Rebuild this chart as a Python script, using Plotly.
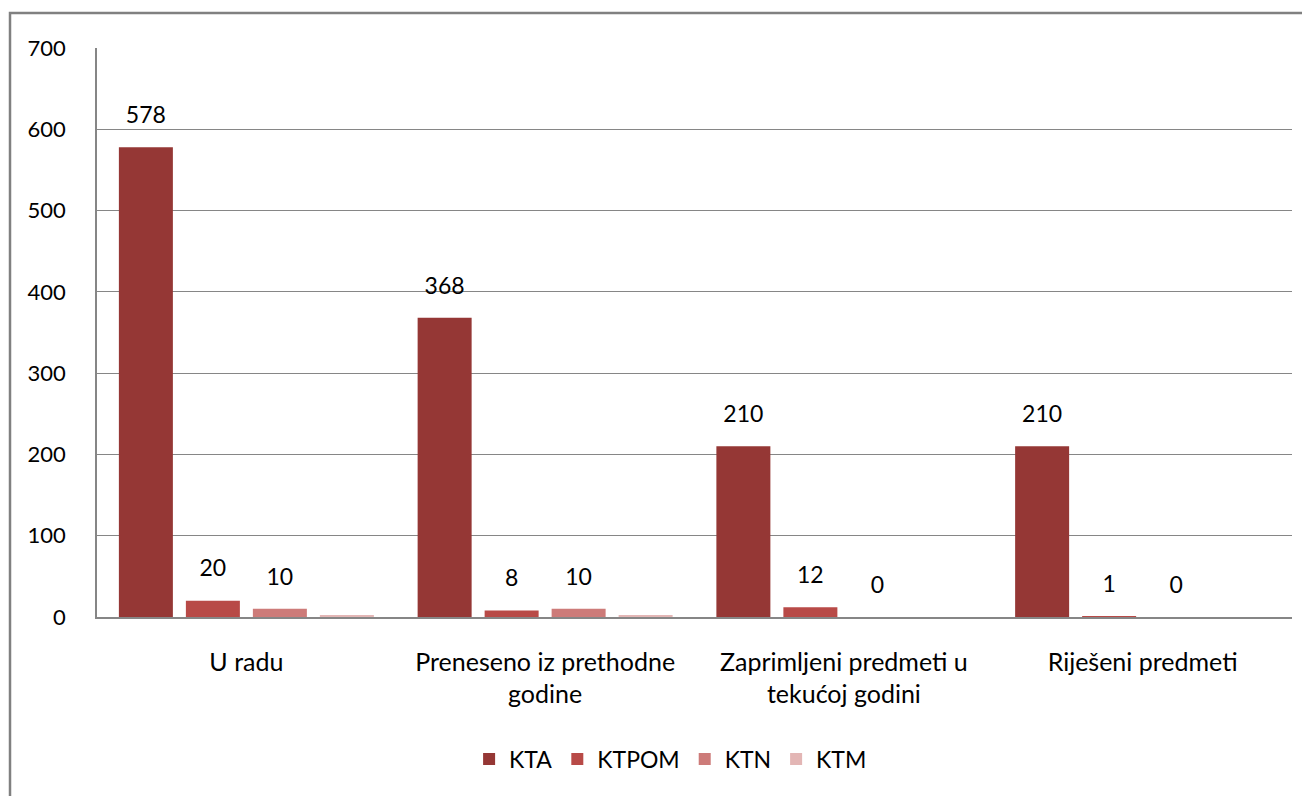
import plotly.graph_objects as go

categories = ["U radu", "Preneseno iz prethodne<br>godine", "Zaprimljeni predmeti u<br>tekućoj godini", "Riješeni predmeti"]
series_names = ["KTA", "KTPOM", "KTN", "KTM"]
kta = [578, 368, 210, 210]
ktpom = [20, 8, 12, 1]
ktn = [10, 10, 0, 0]
ktm = [2, 2, None, None]
labels_kta = ["578", "368", "210", "210"]
labels_ktpom = ["20", "8", "12", "1"]
labels_ktn = ["10", "10", "0", "0"]
labels_ktm = ["", "", "", ""]

colors = ["#953735", "#B84A47", "#CD7B79", "#E3B6B5"]
values = [kta, ktpom, ktn, ktm]
labels = [labels_kta, labels_ktpom, labels_ktn, labels_ktm]

FONT = "Lato"
fig = go.Figure()
for i, (name, vals, col) in enumerate(zip(series_names, values, colors)):
    fig.add_trace(go.Bar(
        x=categories, y=vals, name=name, marker_color=col,
        marker_line_width=0, offsetgroup=str(i), alignmentgroup="a",
    ))
for i, (name, vals, labs) in enumerate(zip(series_names, values, labels)):
    fig.add_trace(go.Scatter(
        x=categories, y=[v if v is not None else 0 for v in vals],
        text=labs, mode="markers+text", textposition="top center",
        marker=dict(size=28, opacity=0), showlegend=False, hoverinfo="skip",
        textfont=dict(family=FONT, size=23, color="#000000"),
        offsetgroup=str(i), alignmentgroup="a", cliponaxis=False,
    ))

# page body has an 8px default margin, so the figure is 8px smaller and starts at (8, 8)
fig.update_layout(
    width=1302, height=788,
    margin=dict(l=89, r=18, t=40, b=179),
    paper_bgcolor="white", plot_bgcolor="white",
    barmode="group", bargap=0.103, bargroupgap=0.194,
    scattermode="group", scattergap=0.103,
    font=dict(family=FONT, size=22, color="#000000"),
    showlegend=True,
    legend=dict(orientation="h", x=0.48, xanchor="center", y=-0.212, yanchor="top",
                font=dict(family=FONT, size=23), traceorder="normal"),
    xaxis=dict(showline=True, linecolor="#868686", linewidth=1.5, ticks="",
               tickfont=dict(family=FONT, size=25), ticklabelstandoff=22, showgrid=False),
    yaxis=dict(range=[0, 700], dtick=100, showgrid=True, gridcolor="#868686", gridwidth=1,
               showline=True, linecolor="#868686", linewidth=1.5, ticks="",
               tickfont=dict(family=FONT, size=22), ticklabelstandoff=25, zeroline=False),
    shapes=[dict(type="rect", xref="paper", yref="paper",
                 x0=-0.0728, x1=1.05, y0=-0.5, y1=1.0615,
                 line=dict(color="#808080", width=2.5), fillcolor="rgba(0,0,0,0)", layer="below")],
)
fig.write_html("out.html")
